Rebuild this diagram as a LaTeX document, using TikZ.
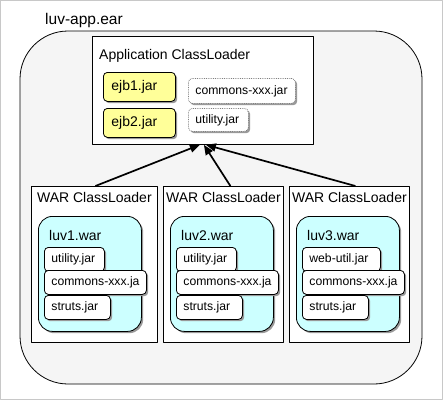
\documentclass[tikz,border=0pt]{standalone}
\usepackage{fontspec}
\setmainfont{Liberation Sans}
\usetikzlibrary{arrows.meta,shadows}

\definecolor{earbg}{RGB}{245,245,245}
\definecolor{warcyan}{RGB}{204,255,255}
\definecolor{ejbyellow}{RGB}{255,255,153}
\definecolor{framegray}{RGB}{200,200,200}

\begin{document}
\begin{tikzpicture}[x=1pt, y=-1pt, line join=round,
  shadowed/.style={drop shadow={shadow xshift=1.8pt, shadow yshift=-1.8pt, fill=gray!80, opacity=1}},
  loaderbox/.style={draw, fill=white, line width=0.8pt, anchor=north west, inner sep=0pt},
  warfile/.style={draw, fill=warcyan, line width=0.8pt, rounded corners=14pt, shadowed, anchor=north west, inner sep=0pt, minimum width=103pt, minimum height=115pt},
  jar/.style={draw, fill=white, line width=0.8pt, rounded corners=4pt, shadowed, anchor=north west, align=left, inner xsep=7pt, inner ysep=0pt, minimum height=24pt, font=\fontsize{12.2}{14}\selectfont},
  libjar/.style={jar, draw=gray, densely dotted},
  ejb/.style={jar, fill=ejbyellow, minimum height=29pt, inner xsep=8pt, font=\fontsize{14}{16}\selectfont},
  title/.style={inner sep=0pt, font=\fontsize{14}{16}\selectfont},
  dep/.style={line width=1.7pt, -{Triangle[length=10pt,width=8pt]}}]
  \useasboundingbox (0,0) rectangle (443,400);
  \fill[white] (0,0) rectangle (443,400);
  \draw[framegray, line width=1pt] (0.5,0.5) rectangle (442.5,399.5);

  % the ear
  \node[anchor=west, inner sep=0pt, font=\fontsize{15.5}{18}\selectfont] (earname) at (45,20) {luv-app.ear};
  \draw[line width=0.8pt, fill=earbg, rounded corners=48pt] (20,31) rectangle (422,384);

  % application classloader
  \node[loaderbox, minimum width=221pt, minimum height=108pt] (app) at (92,36) {};
  \node[title, anchor=west] (apptitle) at (99,56) {Application ClassLoader};
  \node[ejb, text width=56pt] (ejb1) at (103,72) {ejb1.jar};
  \node[ejb, text width=56pt] (ejb2) at (103,108) {ejb2.jar};
  \node[libjar, text width=93pt, minimum height=25pt] (libcommons) at (188,78) {\mbox{commons-xxx.jar}};
  \node[libjar, text width=46pt, minimum height=23pt] (libutility) at (188,108) {utility.jar};

  % war classloaders
  \foreach \i/\x/\w/\first/\fw in {1/31/126/utility.jar/46, 2/163/120/utility.jar/46, 3/289/120/web-util.jar/64} {
    \node[loaderbox, minimum width=\w pt, minimum height=156pt] (war\i) at (\x,186) {};
    \node[title, anchor=north] (wartitle\i) at ([yshift=-6pt]war\i.north) {WAR ClassLoader};
    \node[warfile] (warfile\i) at (\x+7,216) {};
    \node[title, anchor=west] (warname\i) at (\x+18,235) {luv\i.war};
    \node[jar, text width=\fw pt] (first\i) at (\x+13,247) {\first};
    \node[jar, text width=88pt] (commons\i) at (\x+13,270) {\mbox{commons-xxx.ja}};
    \node[jar, text width=52pt] (struts\i) at (\x+13,295) {struts.jar};
  }

  \draw[dep] ([xshift=1pt]war1.north) -- ([xshift=-3pt]app.south);
  \draw[dep] ([xshift=7pt]war2.north) -- ([xshift=1pt]app.south);
  \draw[dep] ([xshift=6pt]war3.north) -- ([xshift=3pt]app.south);
\end{tikzpicture}
\end{document}
